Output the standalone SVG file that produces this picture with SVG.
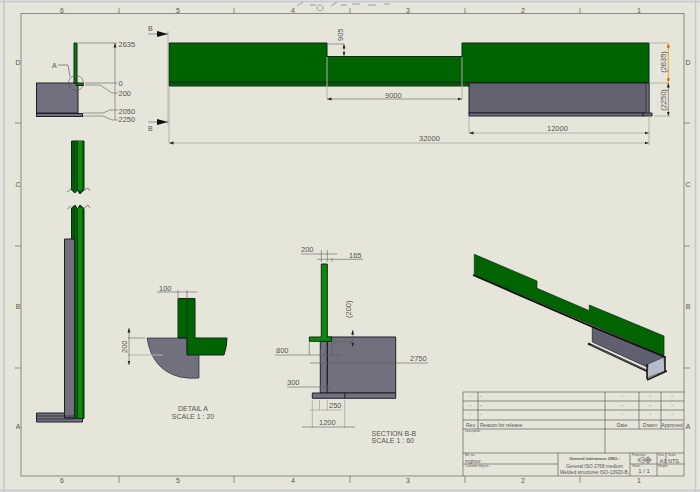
<svg xmlns="http://www.w3.org/2000/svg" width="700" height="492" viewBox="0 0 700 492">
<style>
text{font-family:"Liberation Sans",Arial,sans-serif;fill:#55554f}
.d{font-size:7.500px}
.s{font-size:7px}
.tb{font-size:5px}
.tiny{font-size:3px}
.g{fill:#006400;stroke:#14261a;stroke-width:1}
.g2{fill:#0b7a0b;stroke:#14261a;stroke-width:1}
.m{fill:#70707f;stroke:#20202a;stroke-width:1}
.dim{fill:none;stroke:#5f5f58;stroke-width:.6}
.ext{fill:none;stroke:#b4b4a8;stroke-width:1}
.fr{fill:none;stroke:#77776f;stroke-width:.8}
.tl{fill:none;stroke:#5f5f58;stroke-width:.7}
</style>
<defs>
<marker id="a" markerUnits="userSpaceOnUse" markerWidth="5" markerHeight="4" refX="4.500" refY="2" orient="auto-start-reverse"><path d="M0 .5L4.500 2L0 3.500z" fill="#222"/></marker>
<marker id="b" markerUnits="userSpaceOnUse" markerWidth="11" markerHeight="6" refX="11" refY="3" orient="auto"><path d="M0 0L11 3L0 6z" fill="#111"/></marker>
</defs>
<rect width="700" height="492" fill="#e5e5da"/>
<g id="sheet">
<path d="M0 1.500H700M4 0V492M695.500 0V492M0 490.500H700" fill="none" stroke="#c4c8d0" stroke-width="1.500"/>
<rect x="21" y="13.500" width="663" height="462.500" class="fr"/>
<path class="fr" d="M119 8V13.500M234 8V13.500M350 8V13.500M465 8V13.500M580 8V13.500M119 476V483M234 476V483M350 476V483M465 476V483M580 476V483M15 123H21M15 246H21M15 368H21M684 123H690M684 246H690M684 368H690"/>
<g class="s"><text x="62" y="13" text-anchor="middle">6</text><text x="178" y="13" text-anchor="middle">5</text><text x="293" y="13" text-anchor="middle">4</text><text x="408" y="13" text-anchor="middle">3</text><text x="523" y="13" text-anchor="middle">2</text><text x="639" y="13" text-anchor="middle">1</text>
<text x="62" y="483" text-anchor="middle">6</text><text x="178" y="483" text-anchor="middle">5</text><text x="293" y="483" text-anchor="middle">4</text><text x="408" y="483" text-anchor="middle">3</text><text x="523" y="483" text-anchor="middle">2</text><text x="639" y="483" text-anchor="middle">1</text>
<text x="18" y="65" text-anchor="middle">D</text><text x="18" y="187" text-anchor="middle">C</text><text x="18" y="309" text-anchor="middle">B</text><text x="18" y="429" text-anchor="middle">A</text>
<text x="688" y="65" text-anchor="middle">D</text><text x="688" y="187" text-anchor="middle">C</text><text x="688" y="309" text-anchor="middle">B</text><text x="688" y="429" text-anchor="middle">A</text></g>
</g>
<g id="view-side">
<rect x="36.500" y="83" width="41.500" height="30" class="m"/>
<rect x="36.500" y="113.500" width="46" height="3" class="m"/>
<path class="g2" d="M74 43H77V83H83.500V85.500H76V83H74Z"/>
<circle cx="76" cy="83" r="7.500" fill="none" stroke="#55554f" stroke-width=".6"/>
</g>
<g id="view-front">
<rect x="469" y="83" width="180" height="30" class="m" style="fill:#63636f"/>
<rect x="469" y="113" width="174" height="3" class="m"/>
<path class="m" d="M643 113H652V116H643Z"/>
<path d="M649 83H646V113H649Z" fill="#6a6a76" stroke="#20202a" stroke-width=".7"/>
<path class="g" d="M169 43H327V56.500H462V43H649V82.500H469V86H169Z"/>
<path d="M169 82.500H469" stroke="#0f3d16" stroke-width="2.500"/>
<path d="M462 57V82" stroke="#14261a" stroke-width=".7"/>
<path d="M327 56.500V83" stroke="#14261a" stroke-width=".3"/>
</g>
<g id="view-broken">
<path class="m" d="M64.500 239H74.500V418H64.500Z"/>
<path class="m" d="M36.500 413H64.500V418H82.500V422H36.500Z"/>
<path d="M37 416H74M37 419H74" stroke="#20202a" stroke-width=".7"/>
<path class="g" d="M71.500 141H84V190L80 194L77 190L75 193L71.500 190Z"/>
<path class="g" d="M71.500 208L75 205L77.500 209L80 205L84 208.500V418.500H74.500V239H71.500Z"/>
<path d="M77.500 141V190M77.500 209V418" stroke="#14261a" stroke-width=".8"/>
<path d="M74 141V190M74 206V239" stroke="#14261a" stroke-width=".6"/>
<path d="M80 141V190M80 208V418" stroke="#0b8a0b" stroke-width="4"/>
<path class="tl" d="M67 192L71 189M84 190L88 188L90 191M67 209L71 206M84 208L88 205L90 208"/>
</g>
<g id="detail-a">
<path class="m" d="M147 338H199V378Q190 379 180 377Q152 370 147 338Z" style="stroke:none"/>
<path d="M199 355V378Q190 379 180 377Q152 370 147 338H178" fill="none" stroke="#2a2a33" stroke-width=".7"/>
<path class="g" d="M178 298.500H195V338H227Q227 346 224 355H187V338H178Z"/>
<path d="M187 299V355" stroke="#14261a" stroke-width=".7"/>
<path d="M178 338H187" stroke="#14261a"/>
</g>
<g id="section-bb">
<path class="m" d="M327.300 337H395.700V393H327.300Z"/>
<path class="m" d="M320.300 341H327.300V393H320.300Z"/>
<path class="m" d="M312.300 393H395.700V398.300H312.300Z"/>
<path d="M344.700 393V398.300M327.300 337V393" stroke="#20202a" stroke-width="1"/>
<path d="M321.300 264H327.300V337H331.700V341.300H309.300V337H321.300Z" fill="#0a8a0a" stroke="#14261a" stroke-width="1"/>
</g>
<g id="view-iso">
<path d="M592.300 326.700L664 356V360L647 366V367L592.300 342Z" fill="#5f5f70" stroke="#222" stroke-width=".7"/>
<path d="M588 343.500L647 371" fill="none" stroke="#1a1a1a" stroke-width="2"/>
<path d="M591 345L646 370" fill="none" stroke="#6a6a78" stroke-width=".8"/>
<path d="M648 364L664 357L665 371L647 378Z" fill="#b8bcca" stroke="#333" stroke-width=".7"/>
<path d="M647 380L667 371M647 364V379M665 356V371" fill="none" stroke="#1a1a1a" stroke-width="1.500"/>
<path class="g" d="M474.300 254.300L537 281V288.300L589.300 310.700V305L664 336V355.500L474.300 275Z" style="stroke-width:.7"/>
<path d="M473 275L592 326.700L665 357" fill="none" stroke="#111" stroke-width="1.800"/>
</g>
<g id="connectors">
<path class="ext" d="M169 86V143M327 57V99M462 57V99M469 116V133M649 116V145M650 43H668M650 83H668M654 116H670M168 31V125"/>
<path class="dim" d="M327 44H344M78 43H117M85 83H117M85 85L100 85L112 93H118M83 113L103 113L110 110H118M83 116L103 116L112 120H118"/>
<path class="dim" d="M115 43V120" marker-start="url(#a)"/>
<path class="dim" d="M344 44V56" marker-end="url(#a)" marker-start="url(#a)"/>
<path class="dim" d="M327 99H462" marker-start="url(#a)" marker-end="url(#a)"/>
<path class="ext" d="M469 133H649" marker-start="url(#a)" marker-end="url(#a)"/>
<path class="ext" d="M169 143H649" marker-start="url(#a)" marker-end="url(#a)"/>
<path d="M668.300 43V83" stroke="#f0a030" stroke-width="1" fill="none"/>
<path d="M668.300 45V48M668.300 78V81" stroke="#e87000" stroke-width="2.500"/>
<path class="dim" d="M668.300 83V116" marker-end="url(#a)" marker-start="url(#a)"/>
<path class="dim" d="M148 34H168" marker-end="url(#b)"/>
<path class="dim" d="M148 122H168" marker-end="url(#b)"/>
<path class="tl" d="M58 65H68L70 77"/>
<path class="dim" d="M157 292H197M178 290V298M187 290V299"/>
<path class="dim" d="M128 338H145"/>
<path class="ext" d="M128 355H163"/>
<path class="dim" d="M129 328V365" marker-start="url(#a)" marker-end="url(#a)"/>
<path class="dim" d="M301 254H337M317 259.300H363M321.300 262V250M327.300 262V250M332 262V258"/>
<path class="dim" d="M352.700 330V347" marker-start="url(#a)" marker-end="url(#a)"/>
<path class="dim" d="M333 342H353M275 355H342M309.300 342V355M331.700 342V355M310 363H428M320.300 363V350M287 387H331M320.300 392V385M327.300 392V385"/>
<path class="ext" d="M312.300 400V428M319.500 400V411M327.300 400V411M344.700 400V428M310 410H342"/>
<path class="dim" d="M302 427H355"/>
</g>
<g id="dimension-labels" class="d">
<text x="118.500" y="47">2635</text><text x="118.500" y="85.500">0</text><text x="118.500" y="96">200</text><text x="118.500" y="113.500">2050</text><text x="118.500" y="122">2250</text>
<text x="52" y="68" class="s">A</text>
<text x="148" y="31" class="s">B</text><text x="148" y="131" class="s">B</text>
<text transform="translate(343 41) rotate(-90)">905</text>
<text x="385" y="98">9000</text><text x="547" y="131">12000</text><text x="419" y="141">32000</text>
<text transform="translate(666 62) rotate(-90)" text-anchor="middle">(2635)</text>
<text transform="translate(666 100) rotate(-90)" text-anchor="middle">(2250)</text>
<text x="159" y="291">100</text>
<text transform="translate(127 353) rotate(-90)">200</text>
<text x="301" y="252">200</text><text x="349" y="258">165</text>
<text transform="translate(351 318) rotate(-90)">(200)</text>
<text x="276" y="353">800</text><text x="410" y="361">2750</text><text x="287" y="385">300</text><text x="329" y="408">250</text><text x="319" y="425">1200</text>
<text x="193" y="411" class="s" text-anchor="middle">DETAIL A</text><text x="193" y="418.500" class="s" text-anchor="middle">SCALE 1 : 20</text>
<text x="371.500" y="436" class="s">SECTION B-B</text><text x="371.500" y="443" class="s">SCALE 1 : 60</text>
</g>
<g id="title-block">
<path class="tl" d="M463 392H684M463 401H684M463 410H684M463 420H684M463 429H684M463 453H684M463 392V476M478 392V429M605 392V453M639 392V429M661 392V429M558 453V476M630 453V476M657 453V476M666 453V464M630 464H684M463 464H558"/>
<g class="tiny"><text x="465" y="432">Description:</text><text x="465" y="456">Mtl. no.:</text><text x="465" y="467">Customer dwg no.</text><text x="632" y="455.500">Projection:</text><text x="632" y="466.500">Sheet:</text><text x="658" y="455.500">Size:</text><text x="668" y="455.500">Scale:</text><text x="658" y="466.500">Weight:</text></g>
<g class="tb"><text x="466" y="427">Rev.</text><text x="480" y="427">Reason for release</text><text x="622" y="427" text-anchor="middle">Date</text><text x="650" y="427" text-anchor="middle">Drawn</text><text x="672" y="427" text-anchor="middle">Approved</text>
<text x="465" y="462.500">mgmur</text>
<text x="470" y="398" text-anchor="middle">-</text><text x="470" y="407" text-anchor="middle">-</text><text x="470" y="416" text-anchor="middle">-</text><text x="480" y="398">-</text><text x="480" y="407">-</text><text x="480" y="416">-</text>
<text x="622" y="398" text-anchor="middle">-</text><text x="622" y="407" text-anchor="middle">-</text><text x="622" y="416" text-anchor="middle">-</text><text x="650" y="398" text-anchor="middle">-</text><text x="650" y="407" text-anchor="middle">-</text><text x="650" y="416" text-anchor="middle">-</text><text x="672" y="398" text-anchor="middle">-</text><text x="672" y="407" text-anchor="middle">-</text><text x="672" y="416" text-anchor="middle">-</text>
<text x="594.500" y="459.500" text-anchor="middle" style="font-weight:bold;font-size:4.200px">General tolerances UNO.:</text>
<text x="594.500" y="468" text-anchor="middle" style="font-size:4.800px">General ISO 2768 medium</text><text x="594.500" y="473.500" text-anchor="middle" style="font-size:4.800px">Welded structures ISO-13920-B.</text>
<text x="644" y="472.500" text-anchor="middle" style="font-size:6px">1 / 1</text><text x="659.500" y="463" style="font-size:5.500px">A3</text><text x="668" y="463" style="font-size:5.500px">NTS</text></g>
<g fill="none" stroke="#55554f" stroke-width=".5"><circle cx="648" cy="460" r="2.500"/><circle cx="648" cy="460" r="1.200"/><path d="M639 458.500L644 457V463L639 461.500ZM637 460H652M648 456V464"/></g>
</g>
<g id="toolbar" fill="none" stroke="#9a9ea8" stroke-width="1">
<path d="M297 6L303 2M310 5H316M320 5a3 3 0 1 0 .1 0M331 6L337 2M341 5H347M352 4H360M368 5H376M384 4H390"/>
</g>
</svg>
